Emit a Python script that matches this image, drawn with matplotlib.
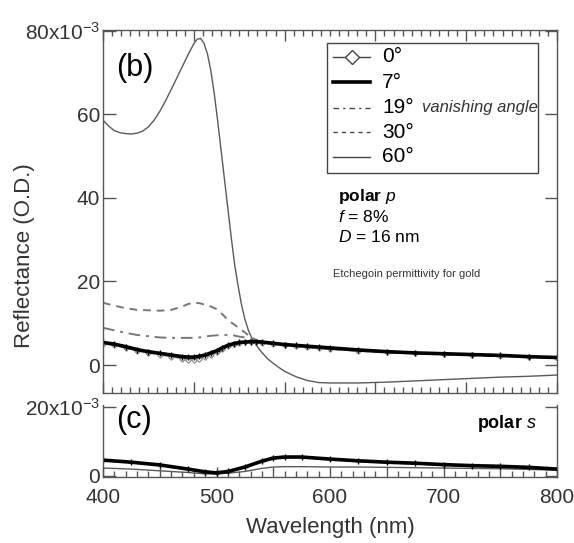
import numpy as np
import matplotlib
matplotlib.use("Agg")
import matplotlib.pyplot as plt
from matplotlib.ticker import MultipleLocator, FuncFormatter
from matplotlib.lines import Line2D
from matplotlib.patches import Rectangle

plt.rcParams['font.family'] = ['Liberation Sans', 'DejaVu Sans']
plt.rcParams['mathtext.fontset'] = 'custom'
plt.rcParams['mathtext.rm'] = 'Liberation Sans'
plt.rcParams['mathtext.it'] = 'Liberation Sans:italic'
plt.rcParams['mathtext.bf'] = 'Liberation Sans:bold'
plt.rcParams['mathtext.default'] = 'regular'

# ---------------- data (panel b, polar p) ----------------
wl = [400, 410, 420, 430, 440, 450, 460, 470, 475, 480, 485, 490, 495, 500, 505,
      510, 515, 520, 525, 530, 535, 540, 550, 560, 570, 580, 590, 600, 625, 650,
      675, 700, 725, 750, 775, 800]
p_0 = [5.1, 4.7, 4.1, 3.4, 2.9, 2.5, 2.0, 1.5, 1.3, 1.2, 1.4, 1.9, 2.5, 3.1, 3.9,
       4.6, 5.0, 5.3, 5.4, 5.5, 5.4, 5.3, 5.0, 4.7, 4.5, 4.3, 4.1, 3.9, 3.4, 3.0,
       2.8, 2.6, 2.4, 2.2, 1.9, 1.7]
p_7 = [5.4, 5.0, 4.4, 3.7, 3.2, 2.8, 2.4, 2.0, 1.9, 1.9, 2.1, 2.4, 2.9, 3.4, 4.1,
       4.7, 5.1, 5.4, 5.5, 5.6, 5.6, 5.5, 5.2, 4.9, 4.7, 4.5, 4.3, 4.1, 3.6, 3.2,
       2.9, 2.7, 2.5, 2.3, 2.0, 1.8]
p_19 = [8.9, 8.3, 7.7, 7.2, 6.9, 6.6, 6.5, 6.5, 6.5, 6.5, 6.6, 6.8, 7.0, 7.1, 7.2,
        7.2, 7.1, 6.8, 6.6, 6.2, 5.9, 5.5, 5.2, 4.8, 4.6, 4.4, 4.2, 4.0, 3.5, 3.1,
        2.9, 2.6, 2.4, 2.2, 2.0, 1.8]
p_30 = [14.9, 14.2, 13.6, 13.2, 13.1, 13.0, 13.2, 14.0, 14.6, 14.9, 14.8, 14.4, 14.0, 13.4, 12.2,
        10.8, 9.8, 8.8, 7.8, 6.7, 6.0, 5.4, 5.0, 4.7, 4.4, 4.2, 4.0, 3.8, 3.4, 3.0,
        2.8, 2.5, 2.3, 2.1, 1.9, 1.7]
wl_60 = [400, 405, 410, 415, 420, 425, 430, 435, 440, 445, 450, 455, 460, 465, 470,
         475, 480, 483, 486, 489, 492, 495, 498, 501, 504, 507, 510, 513, 516, 519,
         522, 525, 528, 531, 534, 537, 540, 545, 550, 555, 560, 570, 580, 590, 600,
         625, 650, 675, 700, 725, 750, 775, 800]
p_60 = [58.6, 57.2, 56.1, 55.6, 55.4, 55.3, 55.5, 56.0, 57.0, 58.6, 60.7, 63.2, 65.9, 68.7, 71.5,
        74.3, 76.9, 78.0, 78.2, 77.0, 74.5, 70.5, 65.0, 58.5, 51.5, 44.5, 37.5, 30.5, 24.0, 19.0,
        14.5, 11.0, 8.4, 6.5, 5.2, 4.0, 3.0, 1.5, 0.4, -0.6, -1.5, -2.8, -3.7, -4.2, -4.3,
        -4.3, -4.1, -3.8, -3.5, -3.2, -2.9, -2.7, -2.4]

# ---------------- data (panel c, polar s) ----------------
wl_s = [400, 425, 450, 475, 490, 500, 510, 525, 540, 550, 560, 575, 600, 625, 650,
        675, 700, 725, 750, 775, 800]
s_0 = [4.4, 3.8, 3.0, 1.8, 1.0, 0.7, 1.1, 2.4, 4.1, 5.0, 5.3, 5.3, 4.7, 4.2, 3.8,
       3.5, 3.1, 2.8, 2.6, 2.3, 1.8]
s_7 = [4.6, 4.0, 3.2, 2.0, 1.2, 0.9, 1.3, 2.6, 4.3, 5.2, 5.5, 5.5, 4.9, 4.4, 4.0,
       3.7, 3.3, 3.0, 2.8, 2.5, 2.0]
s_60 = [2.3, 2.0, 1.5, 1.0, 0.6, 0.6, 0.8, 1.3, 2.2, 2.6, 2.7, 2.7, 2.6, 2.6, 2.5,
        2.4, 2.3, 2.2, 2.1, 1.9, 1.7]

legend_labels = ["0°", "7°", "19°", "30°", "60°"]

W, H = 574, 543
fig = plt.figure(figsize=(W / 100, H / 100), dpi=100)


def fx(x):
    return x / W


def fy(y):
    return 1 - y / H


gray = '#5a5a5a'
ax1 = fig.add_axes([fx(103), fy(393), fx(557) - fx(103), fy(30) - fy(393)])
ax2 = fig.add_axes([fx(103), fy(477), fx(557) - fx(103), fy(405) - fy(477)])

# panel b
ax1.plot(wl_60, p_60, color=gray, lw=1.0)
ax1.plot(wl, p_30, color='#777777', lw=1.4, dashes=(4, 3))
ax1.plot(wl, p_19, color='#777777', lw=1.4, dashes=(6, 3, 1.5, 3))
ax1.plot(wl, p_0, color='#888888', lw=1.0, marker='D', ms=2.8, mfc='white',
         mec='#888888', mew=0.8)
ax1.plot(wl, p_7, color='black', lw=2.6, marker='+', ms=4, mew=1.0)

ax1.set_xlim(400, 800)
ax1.set_ylim(-6.7, 80.2)
ax1.xaxis.set_major_locator(MultipleLocator(80))
ax1.xaxis.set_minor_locator(MultipleLocator(8))
ax1.yaxis.set_major_locator(MultipleLocator(20))
ax1.tick_params(axis='both', which='both', direction='in', top=True, right=True,
                labelbottom=False, width=1.0, color='#555555')
ax1.tick_params(axis='x', which='major', length=8)
ax1.tick_params(axis='x', which='minor', length=4)
ax1.tick_params(axis='y', which='major', length=9, labelsize=15, pad=2,
                labelcolor='#333333')
ax1.yaxis.set_major_formatter(FuncFormatter(
    lambda v, p: r"80x10$^{-3}$" if abs(v - 80) < 1e-6 else f"{v:.0f}"))
for s in ax1.spines.values():
    s.set_color('#555555')
    s.set_linewidth(1.0)

# panel c
ax2.plot(wl_s, s_60, color=gray, lw=1.0)
ax2.plot(wl_s, s_0, color='#888888', lw=1.0)
ax2.plot(wl_s, s_7, color='black', lw=2.6, marker='+', ms=4, mew=1.0)
ax2.set_xlim(400, 800)
ax2.set_ylim(-0.3, 20.6)
ax2.set_yticks([0, 20])
ax2.yaxis.set_major_formatter(FuncFormatter(
    lambda v, p: r"20x10$^{-3}$" if abs(v - 20) < 1e-6 else f"{v:.0f}"))
ax2.xaxis.set_major_locator(MultipleLocator(50))
ax2.xaxis.set_minor_locator(MultipleLocator(10))
ax2.xaxis.set_major_formatter(FuncFormatter(
    lambda v, p: f"{v:.0f}" if abs(v % 100) < 1e-6 else ""))
ax2.spines['top'].set_visible(False)
ax2.tick_params(axis='both', which='both', direction='in', right=True,
                width=1.0, color='#555555', labelcolor='#333333')
ax2.tick_params(axis='x', which='major', length=7, labelsize=15, pad=8)
ax2.tick_params(axis='x', which='minor', length=4)
ax2.tick_params(axis='y', which='major', length=9, labelsize=15, pad=2)
for s in ax2.spines.values():
    s.set_color('#555555')
    s.set_linewidth(1.0)

# labels
fig.text(fx(25), fy(256), "Reflectance (O.D.)", rotation=90, ha='center',
         va='center', fontsize=16, color='#333333')
fig.text(fx(330), fy(528), "Wavelength (nm)", ha='center', va='center',
         fontsize=16, color='#333333')

fig.text(fx(116), fy(68), "(b)", fontsize=22, ha='left', va='center')
fig.text(fx(116), fy(420), "(c)", fontsize=22, ha='left', va='center')
fig.text(fx(537), fy(424), r"$\bf{polar}$ $\it{s}$", fontsize=13, ha='right',
         va='center')

fig.text(fx(338), fy(196), r"$\bf{polar}$ $\it{p}$", fontsize=12.5, ha='left',
         va='center')
fig.text(fx(338), fy(217), r"$\it{f}$ = 8%", fontsize=12.5, ha='left', va='center')
fig.text(fx(338), fy(237), r"$\it{D}$ = 16 nm", fontsize=12.5, ha='left',
         va='center')
fig.text(fx(333), fy(274), "Etchegoin permittivity for gold", fontsize=8,
         ha='left', va='center', color='#333333')

# manual legend
fig.patches.append(Rectangle((fx(327), fy(173)), fx(538) - fx(327),
                             fy(43) - fy(173), transform=fig.transFigure,
                             fill=False, edgecolor='#444444', lw=1.0))
leg_y = [57, 82, 108, 132, 157]
styles = [
    dict(color='#444444', lw=1.0),
    dict(color='black', lw=2.6),
    dict(color='#444444', lw=1.0, dashes=(4, 3, 1.5, 3)),
    dict(color='#444444', lw=1.0, dashes=(3, 3)),
    dict(color='#444444', lw=1.0),
]
for y, lab, st in zip(leg_y, legend_labels, styles):
    fig.lines.append(Line2D([fx(333), fx(370)], [fy(y), fy(y)],
                            transform=fig.transFigure, **st))
    fig.text(fx(382), fy(y), lab, fontsize=15, ha='left', va='center')
fig.lines.append(Line2D([fx(352)], [fy(leg_y[0])], transform=fig.transFigure,
                        marker='D', ms=7, mfc='white', mec='#444444', mew=1.0))
fig.text(fx(422), fy(leg_y[2]), "vanishing angle", fontsize=12, style='italic',
         ha='left', va='center', color='#333333')

fig.savefig("out.png", dpi=100)
